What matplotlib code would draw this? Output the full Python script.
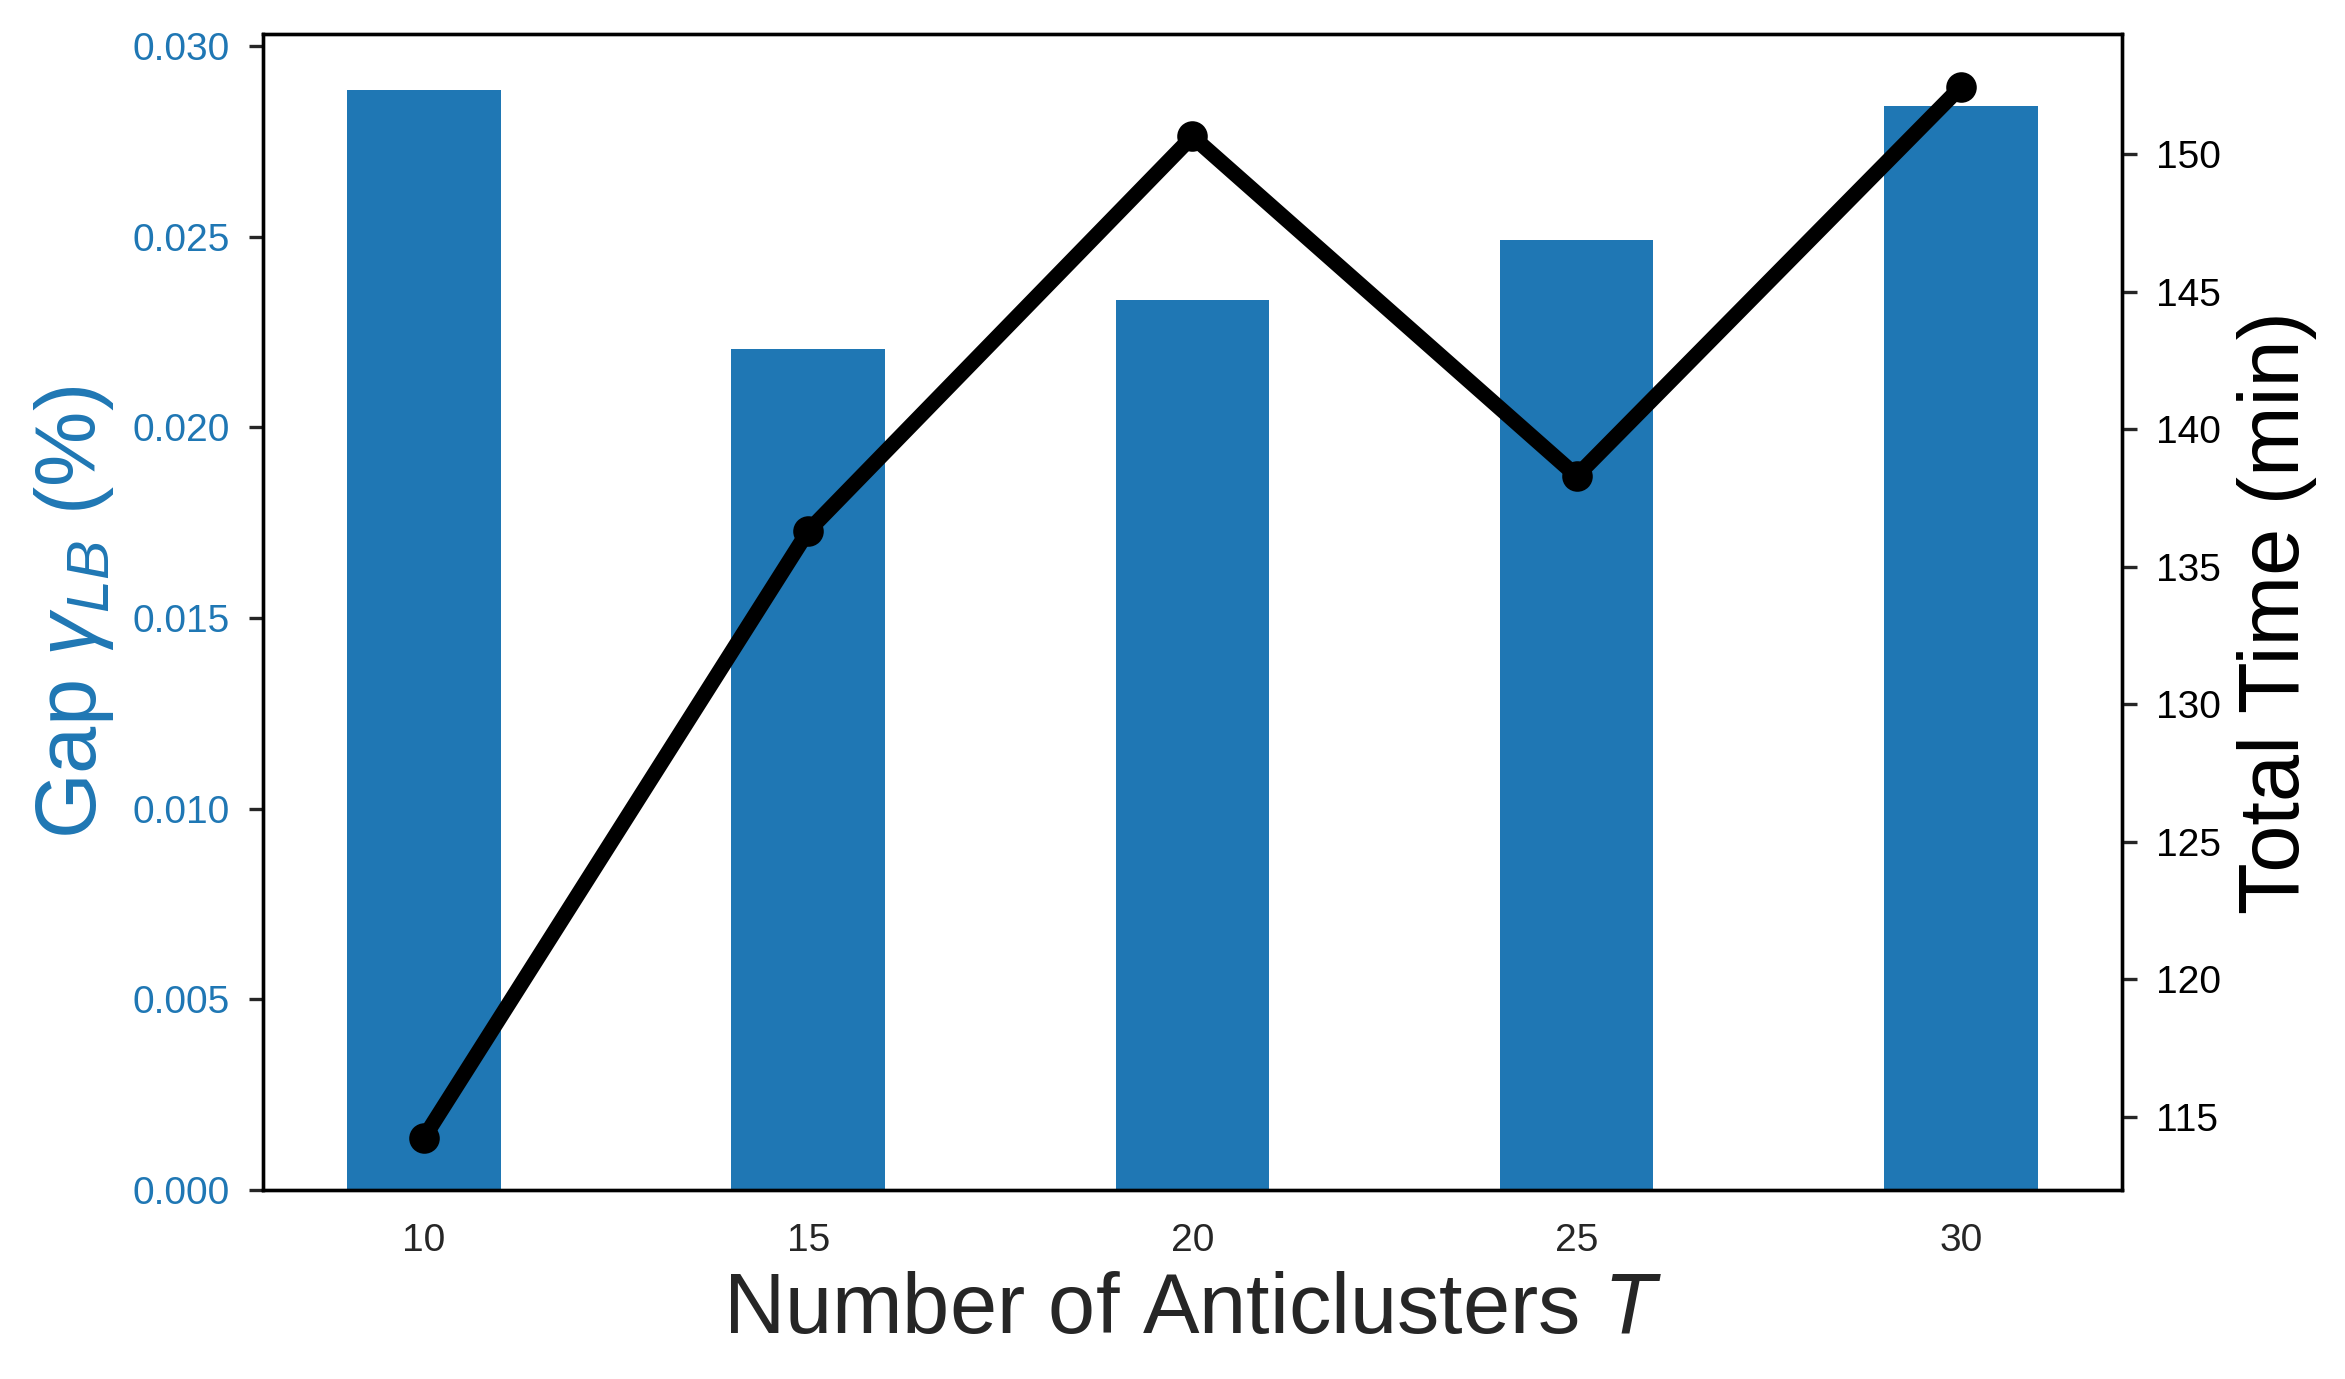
import matplotlib
matplotlib.use("Agg")
import matplotlib.pyplot as plt
import numpy as np

plt.rcParams['font.family'] = ['Liberation Sans', 'DejaVu Sans']
plt.rcParams['mathtext.fontset'] = 'custom'
plt.rcParams['mathtext.rm'] = 'Liberation Sans'
plt.rcParams['mathtext.it'] = 'Liberation Sans:italic'
plt.rcParams['mathtext.bf'] = 'Liberation Sans:bold'

T = ["10", "15", "20", "25", "30"]
gap = [0.02886, 0.02205, 0.02334, 0.02491, 0.02843]
total_time = [114.24, 136.3, 150.65, 138.3, 152.45]

blue = "#1f77b4"
gray = "#262626"

fig = plt.figure(figsize=(11.725, 6.895), dpi=200)
ax = fig.add_axes([0.112, 0.137, 0.793, 0.838])
x = np.arange(len(T))
ax.bar(x, gap, width=0.4, color=blue)
ax.set_xticks(x)
ax.set_xticklabels(T)
ax.set_xlabel("Number of Anticlusters $T$", fontsize=30.5, color=gray, labelpad=4)
ax.set_ylabel("Gap $\\gamma_{LB}$ (%)", fontsize=30.5, color=blue, labelpad=6)
ax.tick_params(axis='y', labelcolor=blue, labelsize=14, color=gray, length=5.2, width=1.2, pad=6.5)
ax.tick_params(axis='x', labelcolor=gray, labelsize=14, color=gray, length=0, pad=12)
ax.set_yticks([0, 0.005, 0.010, 0.015, 0.020, 0.025, 0.030])
ax.set_yticklabels(["0.000", "0.005", "0.010", "0.015", "0.020", "0.025", "0.030"])

ax2 = ax.twinx()
ax2.plot(x, total_time, color="black", linewidth=5.5, marker="o", markersize=10)
ax2.set_ylabel("Total Time (min)", fontsize=30.5, color="black", labelpad=6)
ax2.tick_params(axis='y', labelcolor="black", labelsize=14, color=gray, length=5.5, width=1.2, pad=6.5)
ax2.set_yticks([115, 120, 125, 130, 135, 140, 145, 150])

for a in (ax, ax2):
    for s in a.spines.values():
        s.set_linewidth(1.2)
        s.set_color("black")

fig.savefig("out.png", dpi=200)
plt.close(fig)
